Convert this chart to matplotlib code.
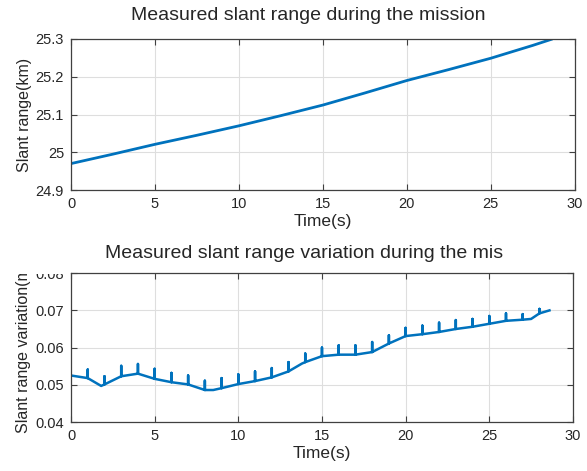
import numpy as np
import matplotlib.pyplot as plt
from matplotlib.transforms import Bbox

plt.rcParams['font.family'] = ['Liberation Sans', 'DejaVu Sans']

# slant range over the mission (km)
t_range = [0, 2.5, 5, 7.5, 10, 12.5, 15, 17.5, 20, 22.5, 25, 27.5, 28.6]
slant_range = [24.970, 24.995, 25.021, 25.045, 25.070, 25.097, 25.125,
               25.157, 25.190, 25.219, 25.249, 25.283, 25.299]

# slant range variation (m), sampled each second
t_var = [0, 1, 1.8, 2, 3, 4, 5, 6, 7, 8, 8.5, 9, 10, 11, 12, 13, 13.8, 14, 15,
         16, 17, 18, 19, 20, 21, 22, 23, 24, 25, 26, 27, 27.5, 28, 28.6]
variation = [0.0525, 0.0518, 0.0497, 0.0501, 0.0523, 0.0530, 0.0516, 0.0507,
             0.0501, 0.0486, 0.0486, 0.0491, 0.0502, 0.0510, 0.0520, 0.0536,
             0.0557, 0.0561, 0.0577, 0.0581, 0.0581, 0.0588, 0.0611, 0.0631,
             0.0636, 0.0642, 0.0650, 0.0656, 0.0664, 0.0672, 0.0675, 0.0677,
             0.0692, 0.0700]
# spikes at every whole second
spike_t = list(range(1, 29))
spike_top = [0.0541, 0.0523, 0.0551, 0.0556, 0.0543, 0.0532, 0.0525, 0.0511,
             0.0518, 0.0528, 0.0536, 0.0545, 0.0561, 0.0584, 0.0600, 0.0606,
             0.0606, 0.0615, 0.0633, 0.0653, 0.0659, 0.0667, 0.0674, 0.0677,
             0.0685, 0.0692, 0.0690, 0.0704]

blue = '#0072BD'
edge = '#404040'
txt = '#262626'

fig = plt.figure(figsize=(5.87, 4.71), dpi=100)
ax1 = fig.add_axes([0.121, 0.5966, 0.858, 0.3206])
ax2 = fig.add_axes([0.121, 0.104, 0.855, 0.316])


def style(ax):
    ax.grid(True, color='#dedede', linewidth=0.8)
    ax.set_axisbelow(True)
    for s in ax.spines.values():
        s.set_color(edge)
        s.set_linewidth(0.9)
    ax.tick_params(direction='in', top=True, right=True, length=4,
                   color=edge, labelsize=10.5, labelcolor=txt, pad=5)
    ax.set_xlim(0, 30)
    ax.set_xticks([0, 5, 10, 15, 20, 25, 30])


style(ax1)
ax1.plot(t_range, slant_range, color=blue, linewidth=2)
ax1.set_ylim(24.9, 25.3)
ax1.set_yticks([24.9, 25.0, 25.1, 25.2, 25.3])
ax1.set_yticklabels(['24.9', '25', '25.1', '25.2', '25.3'])
ax1.set_ylabel('Slant range(km)', fontsize=11.5, color=txt, labelpad=3)
ax1.set_xlabel('Time(s)', fontsize=12.5, color=txt, labelpad=2)
fig.text(308 / 587, 1 - 15 / 471, 'Measured slant range during the mission',
         fontsize=14, color=txt, ha='center', va='center')

style(ax2)
# curve with spikes merged in at whole seconds
xs, ys = [], []
j = 0
for t, v in zip(t_var, variation):
    xs.append(t)
    ys.append(v)
    if j < len(spike_t) and t == spike_t[j]:
        xs += [t, t]
        ys += [spike_top[j], v]
        j += 1
ax2.plot(xs, ys, color=blue, linewidth=1.8)
ax2.set_ylim(0.04, 0.08)
ax2.set_yticks([0.04, 0.05, 0.06, 0.07, 0.08])
ax2.set_yticklabels(['0.04', '0.05', '0.06', '0.07', '0.08'])
ylab = ax2.set_ylabel('Slant range variation(m)', fontsize=11.5,
                      color=txt, labelpad=3)
ax2.set_xlabel('Time(s)', fontsize=12.5, color=txt, labelpad=2)
fig.text(304 / 587, 1 - 253 / 471,
         'Measured slant range variation during the mis',
         fontsize=14, color=txt, ha='center', va='center')

# the reference image is cropped above the lower y label
H = 471
clip = Bbox.from_extents(0, 0, 587, H - 274)
ylab.set_clip_box(clip)
ylab.set_clip_on(True)
for lab in ax2.get_yticklabels():
    lab.set_clip_box(clip)
    lab.set_clip_on(True)

fig.savefig('out.png', dpi=100)
